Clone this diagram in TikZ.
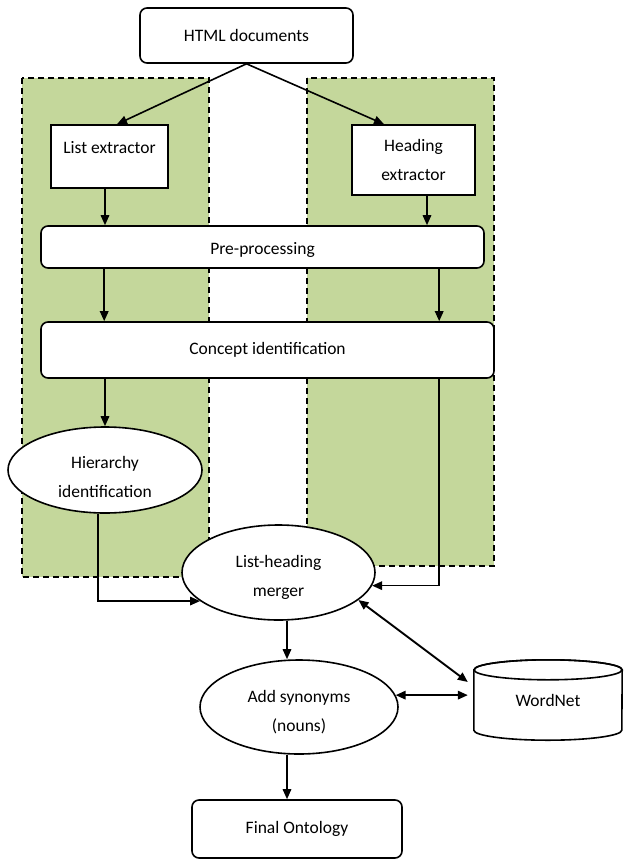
\documentclass[tikz,border=0pt]{standalone}
\usepackage{fontspec}
\setmainfont{Carlito}
\usetikzlibrary{arrows.meta,calc,shapes.geometric}
\definecolor{zonegreen}{RGB}{196,215,155}
\begin{document}
\begin{tikzpicture}[x=1pt,y=-1pt,
  txt/.style={font=\fontsize{17.5}{29}\selectfont, align=center, inner sep=0pt},
  boxnode/.style={draw=black, line width=1.6pt, fill=white, inner sep=0pt},
  rbox/.style={boxnode, rounded corners=7pt},
  ell/.style={boxnode, ellipse},
  arr/.style={line width=1.6pt, -{Triangle[length=10pt,width=8.5pt]}},
  darr/.style={line width=1.9pt, {Triangle[length=10pt,width=8.5pt]}-{Triangle[length=10pt,width=8.5pt]}},
  zone/.style={fill=zonegreen, draw=black, line width=1.9pt, dash pattern=on 6pt off 4pt}
]
\useasboundingbox (0,0) rectangle (624,861);
\fill[white] (0,0) rectangle (624,861);

% shaded zones
\draw[zone] (22,78) rectangle (209,577);
\draw[zone] (307,78) rectangle (494,566);

% nodes
\node[rbox, txt, minimum width=213pt, minimum height=55pt] (html) at (246.5,35.5) {HTML documents};
\node[boxnode, minimum width=117pt, minimum height=63pt,
      label={[txt,yshift=8.5pt]center:List extractor}] (lext) at (109.5,156.5) {};
\node[boxnode, txt, minimum width=123pt, minimum height=70pt] (hext) at (413.5,160) {Heading\\extractor};
\node[rbox, minimum width=443pt, minimum height=42pt,
      label={[txt,yshift=-3pt]center:Pre-processing}] (pre) at (262.5,247) {};
\node[rbox, txt, minimum width=453pt, minimum height=56pt] (concept) at (267.5,350) {Concept identification};
\node[ell, minimum width=194pt, minimum height=86pt,
      label={[txt,yshift=-7pt]center:{Hierarchy\\identification}}] (hier) at (105,470) {};
\node[ell, minimum width=193pt, minimum height=95pt,
      label={[txt,yshift=-5pt]center:{List-heading\\merger}}] (merger) at (278.5,572.5) {};
\node[ell, minimum width=198pt, minimum height=94pt,
      label={[txt,yshift=-5pt]center:{Add synonyms\\(nouns)}}] (syn) at (299,707) {};
\node[rbox, txt, minimum width=210pt, minimum height=58pt] (final) at (297,829) {Final Ontology};

% WordNet cylinder
\node[inner sep=0pt, minimum width=148pt, minimum height=80pt] (wn) at (548,700) {};
\draw[line width=1.6pt, fill=white]
  ($(wn.north west)+(0,10)$) -- ($(wn.south west)+(0,-10)$)
  arc[start angle=180, end angle=360, x radius=74pt, y radius=10pt]
  -- ($(wn.north east)+(0,10)$)
  arc[start angle=0, end angle=180, x radius=74pt, y radius=10pt] -- cycle;
\draw[line width=1.6pt] ($(wn.north)+(0,10)$) ellipse[x radius=74pt, y radius=10pt];
\node[txt] at (wn.center) {WordNet};

% helper coordinates
\coordinate (lt) at ($(lext.north)+(7.5,0)$);
\coordinate (ht) at ($(hext.north)+(-29.5,0)$);
\coordinate (l1) at ($(lext.south)+(-4.5,0)$);
\coordinate (h1) at ($(hext.south)+(13.5,0)$);
\coordinate (p1) at ($(pre.south west)+(64,0)$);
\coordinate (p2) at ($(pre.south west)+(399,0)$);
\coordinate (h2) at ($(hier.south)+(-7,0)$);
\coordinate (c1) at ($(concept.south west)+(399,0)$);
\coordinate (wA) at ($(wn.west)+(-6,-18)$);
\coordinate (wB) at ($(wn.west)+(-6,-5)$);
\coordinate (m1) at ($(merger.south)+(8.5,0)$);
\coordinate (s1) at ($(syn.south)+(-12,0)$);

% connectors
\draw[arr] (html.south) -- (lt);
\draw[arr] (html.south) -- (ht);
\draw[arr] (l1) -- (l1 |- pre.north);
\draw[arr] (h1) -- (h1 |- pre.north);
\draw[arr] (p1) -- (p1 |- concept.north);
\draw[arr] (p2) -- (p2 |- concept.north);
\draw[arr] (concept.south -| hier.north) -- (hier.north);
\draw[arr] (h2) |- (merger.200);
\draw[arr] (c1) |- (merger.-8);
\draw[darr] (merger.-19) -- (wA);
\draw[arr] (m1) -- (m1 |- syn.north);
\draw[darr] (syn.7) -- (syn.7 -| wB);
\draw[arr] (s1) -- (s1 |- final.north);
\end{tikzpicture}
\end{document}
